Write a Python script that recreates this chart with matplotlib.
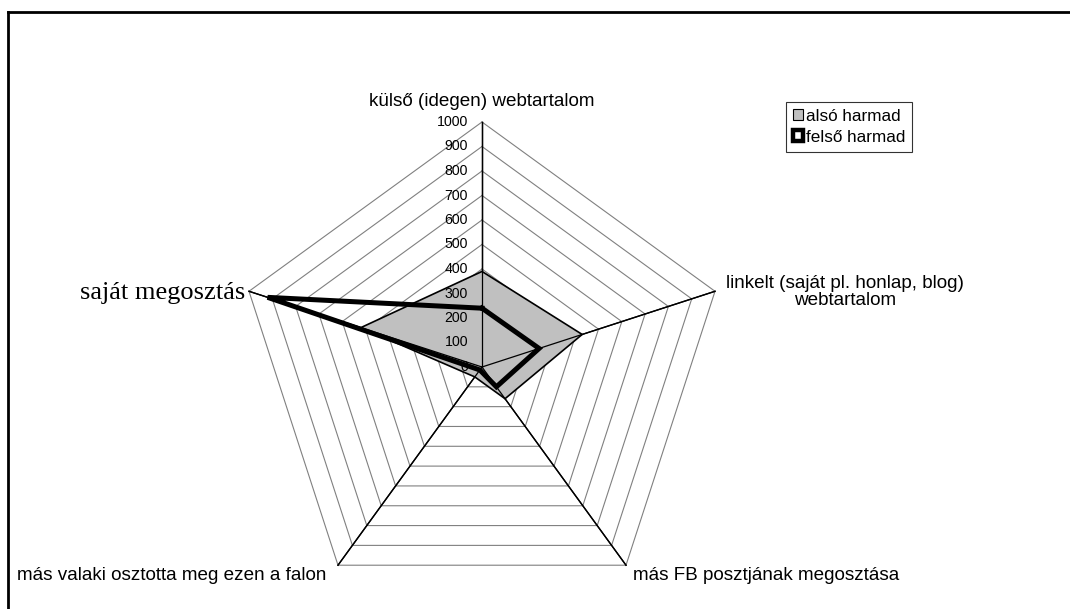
import numpy as np
import matplotlib
matplotlib.use("Agg")
import matplotlib.pyplot as plt
from matplotlib.lines import Line2D
from matplotlib.patches import Patch

categories = ["külső (idegen) webtartalom",
              "linkelt (saját pl. honlap, blog)\nwebtartalom",
              "más FB posztjának megosztása",
              "más valaki osztotta meg ezen a falon",
              "saját megosztás"]
also_harmad = [390, 430, 160, 50, 520]
felso_harmad = [240, 245, 100, 15, 920]
ticks = [0, 100, 200, 300, 400, 500, 600, 700, 800, 900, 1000]
series_names = ["alsó harmad", "felső harmad"]

W, H, DPI = 1070, 609, 100
fig = plt.figure(figsize=(W / DPI, H / DPI), dpi=DPI)
fig.patch.set_facecolor("white")
ax = fig.add_axes([0, 0, 1, 1])
ax.set_axis_off()

# layout: center (482, 367) px from top-left; 1000 units = 245 px
cx, cy, R = 482, 367, 245
s = 1000 / R
ax.set_xlim(-cx * s, (W - cx) * s)
ax.set_ylim(-(H - cy) * s, cy * s)

n = len(categories)
angles = np.deg2rad(90 - 72 * np.arange(n))
cosA, sinA = np.cos(angles), np.sin(angles)

def pts(vals):
    v = np.asarray(vals, dtype=float)
    x = v * cosA
    y = v * sinA
    return np.append(x, x[0]), np.append(y, y[0])

# grid polygons
for t in ticks[1:]:
    x, y = pts([t] * n)
    ax.plot(x, y, color="#808080", lw=0.8, zorder=1)
# spokes
for i in range(n):
    ax.plot([0, ticks[-1] * cosA[i]], [0, ticks[-1] * sinA[i]], color="black", lw=1.0, zorder=2)

# series
x, y = pts(also_harmad)
ax.fill(x, y, facecolor="#C0C0C0", edgecolor="black", lw=1.2, zorder=3)
x, y = pts(felso_harmad)
ax.plot(x, y, color="black", lw=3.6, solid_joinstyle="miter", zorder=4)
for i in range(n):
    ax.plot([0, ticks[-1] * cosA[i]], [0, ticks[-1] * sinA[i]], color="black", lw=0.9, zorder=3.5)

SANS = "Liberation Sans"
# tick labels
for t in ticks:
    ax.text(-14 * s, t, str(t), ha="right", va="center", fontsize=10.2,
            family=SANS, zorder=5)

# category labels
fs = 13.6
ax.text(0, (cy - 101) * s, categories[0], ha="center", va="center", fontsize=fs, family=SANS)
ax.text((845 - cx) * s, (cy - 292) * s, categories[1], ha="center", va="center", fontsize=fs,
        family=SANS, linespacing=1.0)
ax.text((633 - cx) * s, (cy - 575) * s, categories[2], ha="left", va="center", fontsize=fs, family=SANS)
ax.text((17 - cx) * s, (cy - 575) * s, categories[3], ha="left", va="center", fontsize=fs, family=SANS)
ax.text((245 - cx) * s, (cy - 293) * s, categories[4], ha="right", va="center", fontsize=19,
        family="Liberation Serif")

# legend
handles = [Patch(facecolor="#C0C0C0", edgecolor="black", lw=0.8),
           Patch(facecolor="white", edgecolor="black", lw=3.2)]
leg = fig.legend(handles, series_names, loc="upper left", bbox_to_anchor=(786 / W, 1 - 102 / H),
                 prop={"family": SANS, "size": 12.3}, frameon=True, fancybox=False,
                 handlelength=0.6, handleheight=0.6, handletextpad=0.15, borderpad=0.4,
                 labelspacing=0.35, borderaxespad=0)
leg.get_frame().set_edgecolor("black")
leg.get_frame().set_linewidth(0.8)

# outer frame (top and left only visible)
fig.add_artist(Line2D([8 / W, 1], [1 - 12 / H, 1 - 12 / H], color="black", lw=2, transform=fig.transFigure))
fig.add_artist(Line2D([8 / W, 8 / W], [0, 1 - 12 / H], color="black", lw=2, transform=fig.transFigure))

fig.savefig("out.png", dpi=DPI)
